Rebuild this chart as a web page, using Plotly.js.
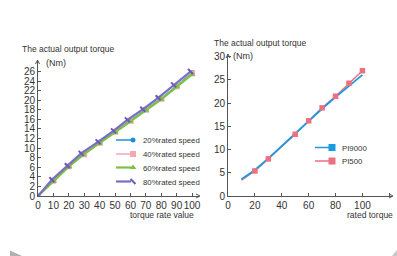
<!DOCTYPE html>
<html>
<head>
<meta charset="utf-8">
<script src="https://cdn.plot.ly/plotly-3.0.1.min.js"></script>
<style>html,body{margin:0;padding:0;background:#fff;}#chart{width:397px;height:256px;}</style>
</head>
<body>
<div id="chart"></div>
<script>
// ---- Left chart data ----
var torqueRate20 = [0, 10, 20, 30, 40, 50, 60, 70, 80, 90, 100];
var torque20 = [0, 3.3, 6.2, 8.8, 11.2, 13.5, 15.8, 18.1, 20.4, 23.0, 25.8];
var torqueRate40 = [0, 10, 20, 30, 40, 50, 60, 70, 80, 90, 100];
var torque40 = [0, 3.2, 6.2, 8.7, 11.1, 13.4, 15.7, 18.0, 20.3, 22.9, 25.6];
var torqueRate60 = [0, 10, 20, 29, 40, 50, 60, 70, 80, 90, 100];
var torque60 = [0, 3.1, 6.1, 8.6, 11.0, 13.3, 15.6, 17.9, 20.2, 22.8, 25.4];
var torqueRate80 = [0, 9, 19, 28, 39, 49, 58, 68, 78, 88, 99];
var torque80 = [0, 3.4, 6.3, 8.9, 11.3, 13.6, 15.9, 18.1, 20.5, 23.2, 26.0];
var leftXTicks = [0, 10, 20, 30, 40, 50, 60, 70, 80, 90, 100];
var leftYTicks = [0, 2, 4, 6, 8, 10, 12, 14, 16, 18, 20, 22, 24, 26];
var leftNames = ["20%rated speed", "40%rated speed", "60%rated speed", "80%rated speed"];

// ---- Right chart data ----
var ratedTorque = [10, 20, 30, 40, 50, 60, 70, 80, 90, 100];
var pi9000 = [3.6, 5.6, 8.1, 10.8, 13.4, 16.1, 18.8, 21.3, 23.7, 26.1];
var pi500Torque = [10, 20, 30, 50, 60, 70, 80, 90, 100];
var pi500 = [3.4, 5.4, 8.0, 13.3, 16.2, 19.0, 21.5, 24.3, 27.0];
var rightXTicks = [0, 20, 40, 60, 80, 100, 120];
var rightYTicks = [0, 5, 10, 15, 20, 25, 30];
var rightNames = ["PI9000", "PI500"];

var W = 397, H = 256;
function px(x) { return x / W; }
function py(y) { return 1 - y / H; }

var FONT = "Liberation Sans, Arial, sans-serif";
var TXT = "#333333";
var AX = "#555555";

var cBlue = "#1e90d8", cPinkL = "#f4a9b2", cGreen = "#7cc242", cPurple = "#7b6cc4";
var cBlue2 = "#1a9be0", cPink2 = "#ec7080";

var traces = [
  {x: torqueRate20, y: torque20, name: leftNames[0], mode: "lines+markers", xaxis: "x", yaxis: "y",
   line: {color: cBlue, width: 1.5}, marker: {symbol: "circle", size: 5, color: cBlue}, legend: "legend"},
  {x: torqueRate40, y: torque40, name: leftNames[1], mode: "lines+markers", xaxis: "x", yaxis: "y",
   line: {color: cPinkL, width: 1.5}, marker: {symbol: "square", size: 6, color: cPinkL}, legend: "legend2"},
  {x: torqueRate60, y: torque60, name: leftNames[2], mode: "lines+markers", xaxis: "x", yaxis: "y",
   line: {color: cGreen, width: 2.2}, marker: {symbol: "triangle-up", size: 6, color: cGreen}, legend: "legend3"},
  {x: torqueRate80, y: torque80, name: leftNames[3], mode: "lines+markers", xaxis: "x", yaxis: "y",
   line: {color: cPurple, width: 2.2}, marker: {symbol: "line-nw", size: 5, color: cPurple, line: {color: "#6a5ab8", width: 2}}, legend: "legend4"},
  // right chart
  {x: pi500Torque, y: pi500, mode: "lines", xaxis: "x2", yaxis: "y2", showlegend: false,
   line: {color: cPink2, width: 1.5}},
  {x: ratedTorque, y: pi9000, mode: "lines", xaxis: "x2", yaxis: "y2", showlegend: false,
   line: {color: cBlue2, width: 1.8}},
  {x: pi500Torque.slice(1), y: pi500.slice(1), mode: "markers", xaxis: "x2", yaxis: "y2", showlegend: false,
   marker: {symbol: "square", size: 5.5, color: cPink2}},
  // legend entries for right chart
  {x: [null], y: [null], name: rightNames[0], mode: "lines+markers", xaxis: "x2", yaxis: "y2",
   line: {color: cBlue2, width: 1.5}, marker: {symbol: "square", size: 7, color: cBlue2}, legend: "legend5"},
  {x: [null], y: [null], name: rightNames[1], mode: "lines+markers", xaxis: "x2", yaxis: "y2",
   line: {color: cPink2, width: 1.5}, marker: {symbol: "square", size: 7, color: cPink2}, legend: "legend6"}
];

function axisBase() {
  return {
    showline: true, linecolor: AX, linewidth: 1, showgrid: false, zeroline: false,
    ticks: "inside", ticklen: 3, tickcolor: AX, tickwidth: 1, tickangle: 0,
    tickfont: {family: FONT, size: 10, color: TXT}, fixedrange: true
  };
}

var xa = axisBase();
Object.assign(xa, {domain: [px(38), px(199)], range: [0, 104.5], tickmode: "array", tickvals: leftXTicks, anchor: "y"});
var ya = axisBase();
Object.assign(ya, {domain: [py(196), py(60)], range: [0, 28.4], tickmode: "array", tickvals: leftYTicks, anchor: "x"});
var xa2 = axisBase();
Object.assign(xa2, {domain: [px(228), px(392)], range: [0, 122], tickmode: "array", tickvals: rightXTicks, anchor: "y2"});
var ya2 = axisBase();
Object.assign(ya2, {domain: [py(196), py(54)], range: [0, 30.6], tickmode: "array", tickvals: rightYTicks, anchor: "x2"});

function legendAt(xpx, ypx) {
  return {x: px(xpx - 40), y: py(ypx), xanchor: "left", yanchor: "middle", bgcolor: "rgba(0,0,0,0)",
          borderwidth: 0, font: {family: FONT, size: 7.8, color: TXT}, itemclick: false, itemdoubleclick: false};
}

function ann(text, xpx, ypx, size, anchor) {
  return {text: text, x: px(xpx), y: py(ypx), xref: "paper", yref: "paper", xanchor: anchor || "left",
          yanchor: "middle", showarrow: false, font: {family: FONT, size: size, color: TXT}};
}

function arrowUp(x, y) {
  return {type: "path", xref: "paper", yref: "paper",
          path: "M" + px(x - 2) + "," + py(y + 4) + " L" + px(x) + "," + py(y) + " L" + px(x + 2) + "," + py(y + 4),
          line: {color: AX, width: 1}};
}
function arrowRight(x, y) {
  return {type: "path", xref: "paper", yref: "paper",
          path: "M" + px(x - 4) + "," + py(y - 2) + " L" + px(x) + "," + py(y) + " L" + px(x - 4) + "," + py(y + 2),
          line: {color: AX, width: 1}};
}

var layout = {
  width: W, height: H, margin: {l: 0, r: 0, t: 0, b: 0},
  paper_bgcolor: "#ffffff", plot_bgcolor: "rgba(0,0,0,0)",
  font: {family: FONT, color: TXT},
  xaxis: xa, yaxis: ya, xaxis2: xa2, yaxis2: ya2,
  legend: legendAt(143, 140),
  legend2: legendAt(143, 154),
  legend3: legendAt(143, 167.5),
  legend4: legendAt(143, 181.5),
  legend5: legendAt(342, 147.5),
  legend6: legendAt(342, 161),
  annotations: [
    ann("The actual output torque", 20, 49, 8.5),
    ann("(Nm)", 44, 63, 9),
    ann("torque rate value", 196, 215, 8.5, "right"),
    ann("The actual output torque", 212, 42.5, 8.5),
    ann("(Nm)", 231, 56, 9),
    ann("rated torque", 395, 215, 8.5, "right")
  ],
  shapes: [
    arrowUp(37.5, 60), arrowRight(200, 196),
    arrowUp(228, 54), arrowRight(393, 196),
    {type: "path", xref: "paper", yref: "paper",
     path: "M" + px(10) + "," + py(250.5) + " L" + px(22) + "," + py(256) + " L" + px(10) + "," + py(256) + " Z",
     fillcolor: "#b0b0b0", line: {width: 0}},
    {type: "path", xref: "paper", yref: "paper",
     path: "M" + px(397) + "," + py(250) + " L" + px(392) + "," + py(256) + " L" + px(397) + "," + py(256) + " Z",
     fillcolor: "#c8c8c8", line: {width: 0}}
  ],
  showlegend: true
};

function compactLegend() {
  // shorten legend symbols to match the compact reference legend
  var gd = document.getElementById("chart");
  gd.querySelectorAll("g.legendsymbols").forEach(function (g) {
    g.setAttribute("transform", "translate(10,0)");
  });
  gd.querySelectorAll("g.legendlines path").forEach(function (p) {
    p.setAttribute("d", "M13,0h15");
  });
}

Plotly.newPlot("chart", traces, layout, {staticPlot: true, displayModeBar: false}).then(function () {
  compactLegend();
  setTimeout(compactLegend, 50);
});
</script>
</body>
</html>
